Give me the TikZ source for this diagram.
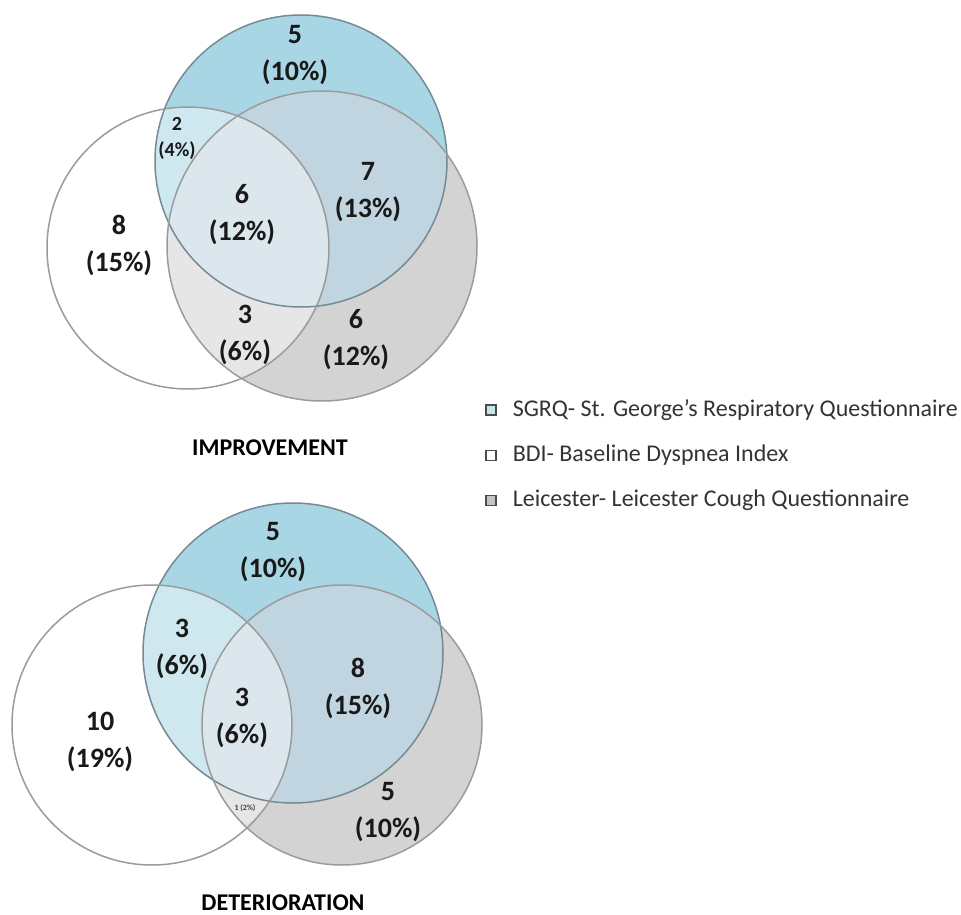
\documentclass[tikz,border=0pt]{standalone}
\usepackage{fontspec}
\setmainfont{Carlito}
\usetikzlibrary{positioning}

\definecolor{sgrqblue}{RGB}{168,214,229}
\definecolor{lcqgray}{RGB}{211,211,211}
\definecolor{bothblue}{RGB}{192,213,223}
\definecolor{rimblue}{RGB}{118,138,148}
\definecolor{rimgray}{RGB}{155,155,155}
\definecolor{keyblue}{RGB}{200,230,234}
\definecolor{keygray}{RGB}{196,196,196}

\begin{document}
\begin{tikzpicture}[x=1pt, y=-1pt,
    count/.style={align=center, inner sep=0pt, text=black!90,
      font=\fontsize{28}{37}\selectfont\bfseries},
    small/.style={count, font=\fontsize{20}{26}\selectfont\bfseries},
    title/.style={inner sep=0pt, font=\fontsize{24}{28}\selectfont\bfseries},
    key/.style={draw=black!70, line width=1.2pt, minimum size=10pt, inner sep=0pt},
    keytext/.style={inner sep=0pt, text=black!80, font=\fontsize{24}{28}\selectfont},
    rim/.style={line width=1.5pt}]
  \useasboundingbox (0,0) rectangle (961,915);

  % improvement
  \fill [sgrqblue] (301,161) circle [radius=146pt];
  \fill [lcqgray] (322,246) circle [radius=155pt];
  \begin{scope}
    \clip (301,161) circle [radius=146pt];
    \fill [bothblue] (322,246) circle [radius=155pt];
  \end{scope}
  \fill [white, fill opacity=.45] (188,248) circle [radius=141pt];
  \draw [rim, rimblue] (301,161) circle [radius=146pt];
  \draw [rim, rimgray] (322,246) circle [radius=155pt];
  \draw [rim, rimgray] (188,248) circle [radius=141pt];

  \node (i5) [count] at (295,55) {5\\(10\%)};
  \node (i2) [small] at (177,138) {2\\(4\%)};
  \node (i6) [count] at (242,215) {6\\(12\%)};
  \node (i8) [count] at (119,245) {8\\(15\%)};
  \node (i7) [count] at (368,192) {7\\(13\%)};
  \node (i3) [count] at (245,335) {3\\(6\%)};
  \node (i6b) [count] at (356,340) {6\\(12\%)};
  \node (imp) [title] at (270,448) {IMPROVEMENT};

  % deterioration
  \fill [sgrqblue] (293,653) circle [radius=150pt];
  \fill [lcqgray] (342,725) circle [radius=140pt];
  \begin{scope}
    \clip (293,653) circle [radius=150pt];
    \fill [bothblue] (342,725) circle [radius=140pt];
  \end{scope}
  \fill [white, fill opacity=.45] (152,725) circle [radius=140pt];
  \draw [rim, rimblue] (293,653) circle [radius=150pt];
  \draw [rim, rimgray] (342,725) circle [radius=140pt];
  \draw [rim, rimgray] (152,725) circle [radius=140pt];

  \node (d5) [count] at (273,552) {5\\(10\%)};
  \node (d3) [count] at (182,649) {3\\(6\%)};
  \node (d3b) [count] at (242,718) {3\\(6\%)};
  \node (d8) [count] at (358,688) {8\\(15\%)};
  \node (d10) [count] at (100,742) {10\\(19\%)};
  \node (d1) [inner sep=0pt, text=black!75, font=\fontsize{8}{9}\selectfont\bfseries] at (245,808) {1 (2\%)};
  \node (d5b) [count] at (388,812) {5\\(10\%)};
  \node (det) [title] at (283,903) {DETERIORATION};

  % legend
  \node (k1) [key, fill=keyblue] at (491,410) {};
  \node (k2) [key, fill=white, below = 34pt of k1] {};
  \node (k3) [key, fill=keygray, below = 34pt of k2] {};
  \node (sgrq) [keytext, right = 16pt of k1] {SGRQ- St. George’s Respiratory Questionnaire};
  \node (bdi) [keytext, right = 16pt of k2] {BDI- Baseline Dyspnea Index};
  \node (lcq) [keytext, right = 16pt of k3] {Leicester- Leicester Cough Questionnaire};
\end{tikzpicture}
\end{document}
